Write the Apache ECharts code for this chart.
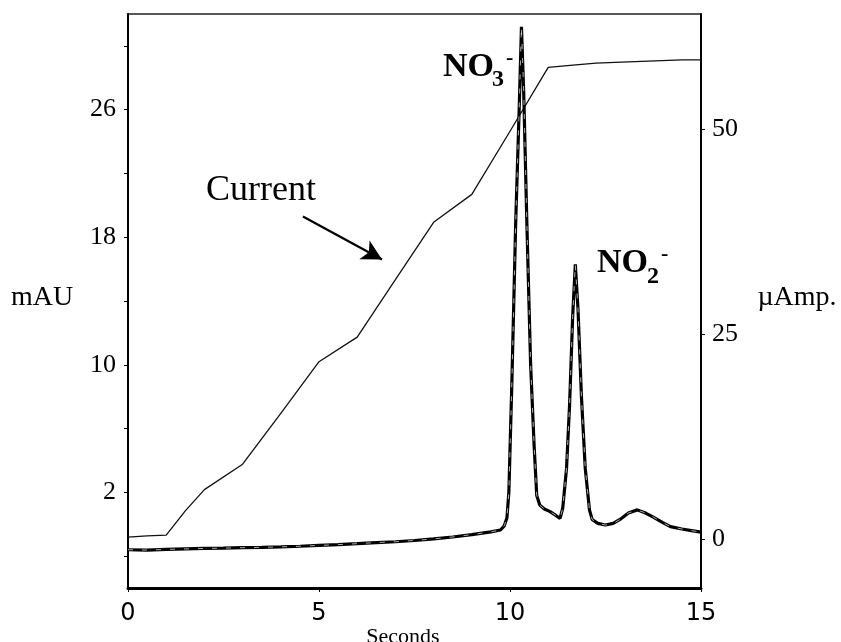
<!DOCTYPE html>
<html>
<head>
<meta charset="utf-8">
<script src="https://cdn.jsdelivr.net/npm/echarts@6/dist/echarts.min.js"></script>
<style>
html,body{margin:0;padding:0;background:#fff;}
#chart{width:841px;height:642px;}
</style>
</head>
<body>
<div id="chart"></div>
<script>
// Chromatogram (absorbance, mAU) vs time (s)
const timeSec = [0,0.5,1,1.5,2,2.5,3,3.5,4,4.5,5,5.5,6,6.5,7,7.5,8,8.5,9,9.5,9.75,9.85,9.92,9.97,10.05,10.15,10.24,10.3,10.36,10.44,10.54,10.63,10.7,10.78,10.9,11.05,11.2,11.31,11.38,11.48,11.56,11.64,11.71,11.78,11.87,11.97,12.08,12.15,12.3,12.5,12.7,12.88,13.1,13.33,13.55,13.75,14.0,14.2,14.5,14.75,15];
const absorbance = [-1.6,-1.62,-1.58,-1.55,-1.52,-1.5,-1.47,-1.45,-1.42,-1.38,-1.33,-1.28,-1.22,-1.15,-1.1,-1.02,-0.92,-0.8,-0.65,-0.48,-0.36,-0.1,0.4,2.0,9,19,26,31.2,27,19,10,5,1.8,1.2,0.95,0.79,0.55,0.37,1.0,3.5,7.5,13,16.3,13.5,8,3.5,0.9,0.3,0.05,-0.05,0.05,0.3,0.7,0.9,0.7,0.45,0.1,-0.15,-0.3,-0.4,-0.5];
// Current (uAmp) vs time (s)
const currentTime = [0,0.5,1,1.5,2,3,4,5,6,7,8,9,10,11,11.5,12.25,12.75,14.5,15];
const currentUA = [0.2,0.35,0.45,3.4,6.0,9.1,15.3,21.6,24.6,31.6,38.6,42.0,49.7,57.5,57.7,58.0,58.1,58.4,58.4];
// Axis ticks
const xTickValues = [0,5,10,15];
const leftTickValues = [-2,2,6,10,14,18,22,26,30];
const leftLabelValues = [2,10,18,26];
const rightTickValues = [0,25,50];

const chart = echarts.init(document.getElementById('chart'), null, {renderer:'canvas'});
const serif = '"Liberation Serif", "Times New Roman", serif';

const option = {
  animation:false,
  backgroundColor:'#fff',
  grid:{left:128,right:140,top:14,bottom:54,show:true,borderColor:'#222',borderWidth:1.5,backgroundColor:'transparent'},
  xAxis:{
    type:'value',min:0,max:15,interval:5,
    axisLine:{show:true,onZero:false,lineStyle:{color:'#000',width:3}},
    axisTick:{show:true,length:4,inside:false,lineStyle:{color:'#000',width:1}},
    axisLabel:{show:true,margin:14,color:'#000',fontFamily:'"DejaVu Sans", sans-serif',fontSize:24,
      formatter:v=>xTickValues.includes(v)?String(v):''},
    splitLine:{show:false}
  },
  yAxis:[
    {type:'value',min:-4,max:32,position:'left',
      axisLine:{show:true,onZero:false,lineStyle:{color:'#000',width:2}},
      axisTick:{show:true,length:4,customValues:leftTickValues,lineStyle:{color:'#000',width:1}},
      axisLabel:{show:true,margin:12,color:'#000',fontFamily:serif,fontSize:26,customValues:leftLabelValues},
      splitLine:{show:false}
    },
    {type:'value',min:-6,max:64,position:'right',
      axisLine:{show:true,onZero:false,lineStyle:{color:'#000',width:2}},
      axisTick:{show:true,length:4,customValues:rightTickValues,lineStyle:{color:'#000',width:1}},
      axisLabel:{show:true,margin:11,color:'#000',fontFamily:serif,fontSize:26,customValues:rightTickValues},
      splitLine:{show:false}
    }
  ],
  series:[
    {type:'line',name:'Current',yAxisIndex:1,showSymbol:false,
      data:currentTime.map((t,i)=>[t,currentUA[i]]),
      lineStyle:{color:'#111',width:1.3}},
    {type:'line',name:'Absorbance',yAxisIndex:0,showSymbol:false,
      data:timeSec.map((t,i)=>[t,absorbance[i]]),
      lineStyle:{color:'#000',width:3.2},
      markLine:{silent:true,symbol:['none','arrow'],symbolSize:[16,20],
        label:{show:false},
        lineStyle:{color:'#000',width:2.2,type:'solid'},
        data:[[{coord:[4.58,19.3]},{coord:[6.65,16.6]}]]}
    },
    {type:'line',name:'Absorbance overlay',yAxisIndex:0,showSymbol:false,
      data:timeSec.map((t,i)=>[t,absorbance[i]]),
      lineStyle:{color:'#fff',width:0.8,type:[5,9],opacity:0.85}}
  ],
  graphic:[
    {type:'text',x:261,y:191,style:{text:'Current',font:'36px '+serif,fill:'#000',align:'center',verticalAlign:'middle'}},
    {type:'text',x:443,y:67,style:{text:'NO',font:'bold 34px '+serif,fill:'#000',align:'left',verticalAlign:'middle'}},
    {type:'text',x:492,y:80,style:{text:'3',font:'bold 24px '+serif,fill:'#000',align:'left',verticalAlign:'middle'}},
    {type:'text',x:506,y:58,style:{text:'-',font:'bold 22px '+serif,fill:'#000',align:'left',verticalAlign:'middle'}},
    {type:'text',x:597,y:263,style:{text:'NO',font:'bold 34px '+serif,fill:'#000',align:'left',verticalAlign:'middle'}},
    {type:'text',x:647,y:277,style:{text:'2',font:'bold 24px '+serif,fill:'#000',align:'left',verticalAlign:'middle'}},
    {type:'text',x:661,y:254,style:{text:'-',font:'bold 22px '+serif,fill:'#000',align:'left',verticalAlign:'middle'}},
    {type:'text',x:42,y:298,style:{text:'mAU',font:'28px '+serif,fill:'#000',align:'center',verticalAlign:'middle'}},
    {type:'text',x:797,y:298,style:{text:'µAmp.',font:'28px '+serif,fill:'#000',align:'center',verticalAlign:'middle'}},
    {type:'text',x:403,y:637,style:{text:'Seconds',font:'22px '+serif,fill:'#000',align:'center',verticalAlign:'middle'}}
  ]
};
chart.setOption(option);
</script>
</body>
</html>
